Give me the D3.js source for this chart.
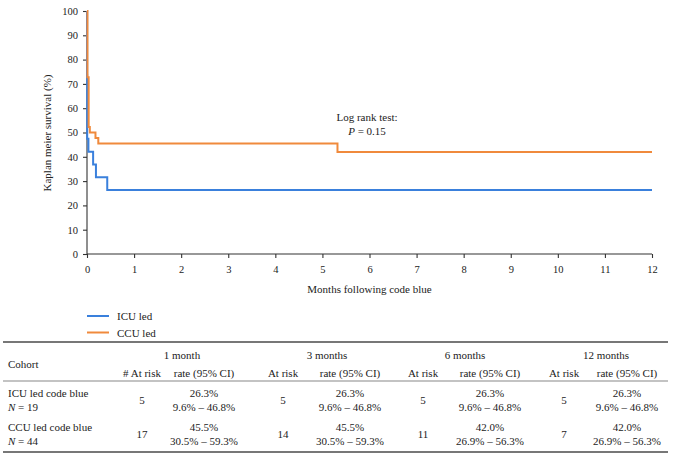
<!DOCTYPE html>
<html><head><meta charset="utf-8">
<script src="https://cdn.jsdelivr.net/npm/d3@7"></script>
<style>
body{margin:0;background:#fff;}
svg{display:block;font-family:"Liberation Serif","DejaVu Serif",serif;}
</style></head>
<body><svg id="c" width="677" height="460"></svg>
<script>
// ---- data ----
const monthTicks = [0,1,2,3,4,5,6,7,8,9,10,11,12];
const survTicks = [0,10,20,30,40,50,60,70,80,90,100];
const icuTimes = [0, 0.002, 0.004, 0.03, 0.13, 0.19, 0.43, 12];
const icuSurv  = [100, 73.7, 47.4, 42.1, 36.8, 31.6, 26.3, 26.3];
const ccuTimes = [0, 0.01, 0.035, 0.06, 0.18, 0.24, 5.32, 12];
const ccuSurv  = [100, 72.7, 52.3, 50.0, 47.7, 45.5, 42.0, 42.0];
const seriesNames = ["ICU led", "CCU led"];
const timepoints = ["1 month", "3 months", "6 months", "12 months"];
const riskHeaders = ["# At risk", "At risk", "At risk", "At risk"];
const cohortNames = ["ICU led code blue", "CCU led code blue"];
const cohortN = [19, 44];
const icuAtRisk = [5, 5, 5, 5];
const icuRate = ["26.3%", "26.3%", "26.3%", "26.3%"];
const icuCI = ["9.6% – 46.8%", "9.6% – 46.8%", "9.6% – 46.8%", "9.6% – 46.8%"];
const ccuAtRisk = [17, 14, 11, 7];
const ccuRate = ["45.5%", "45.5%", "42.0%", "42.0%"];
const ccuCI = ["30.5% – 59.3%", "30.5% – 59.3%", "26.9% – 56.3%", "26.9% – 56.3%"];

// ---- drawing ----
const svg = d3.select("#c");
const colors = ["#3a80dc", "#f08a3c"];
const x = d3.scaleLinear().domain([0,12]).range([87,652]);
const y = d3.scaleLinear().domain([0,100]).range([254,11]);
const axisColor = "#333";

const ya = svg.append("g").attr("transform","translate(87,0)")
  .call(d3.axisLeft(y).tickValues(survTicks).tickSize(4).tickPadding(5));
const xa = svg.append("g").attr("transform","translate(0,254)")
  .call(d3.axisBottom(x).tickValues(monthTicks).tickSize(4).tickPadding(8));
[ya, xa].forEach(a => {
  a.selectAll("path,line").attr("stroke", axisColor).attr("stroke-width",1.1);
  a.selectAll("text").attr("fill","#222").style("font-size","10.5px").style("font-family","Liberation Serif, serif");
});
xa.select(".domain").attr("d","M87,0H652");
ya.select(".domain").attr("d","M0,254V11");

svg.append("text").attr("transform","translate(51,133) rotate(-90)")
  .attr("text-anchor","middle").attr("font-size","11px").attr("fill","#222")
  .text("Kaplan meier survival (%)");
svg.append("text").attr("x",369.5).attr("y",293).attr("text-anchor","middle")
  .attr("font-size","11px").attr("fill","#222").text("Months following code blue");

const line = d3.line().x(d=>x(d[0])).y(d=>y(d[1])).curve(d3.curveStepAfter);
const icuData = icuTimes.map((t,i)=>[t, icuSurv[i]]);
const ccuData = ccuTimes.map((t,i)=>[t, ccuSurv[i]]);
svg.append("path").datum(icuData).attr("d",line).attr("fill","none")
  .attr("stroke",colors[0]).attr("stroke-width",2);
svg.append("path").datum(ccuData).attr("d",line).attr("fill","none")
  .attr("stroke",colors[1]).attr("stroke-width",2);

// log rank annotation
const ann = svg.append("text").attr("text-anchor","middle").attr("font-size","11px").attr("fill","#222");
ann.append("tspan").attr("x",367).attr("y",121).text("Log rank test:");
const t2 = ann.append("tspan").attr("x",367).attr("y",135);
t2.append("tspan").attr("font-style","italic").text("P");
t2.append("tspan").text(" = 0.15");

// legend
seriesNames.forEach((n,i)=>{
  const ly = 316 + i*16.5;
  svg.append("line").attr("x1",87).attr("x2",109).attr("y1",ly).attr("y2",ly)
    .attr("stroke",colors[i]).attr("stroke-width",2);
  svg.append("text").attr("x",117).attr("y",ly+4).attr("font-size","11px").attr("fill","#222").text(n);
});

// table
const tcol = "#222";
const fs = "11px";
svg.append("line").attr("x1",3).attr("x2",668).attr("y1",342).attr("y2",342).attr("stroke","#777").attr("stroke-width",2);
svg.append("line").attr("x1",3).attr("x2",668).attr("y1",381).attr("y2",381).attr("stroke","#888").attr("stroke-width",1.2);
svg.append("line").attr("x1",3).attr("x2",668).attr("y1",452).attr("y2",452).attr("stroke","#777").attr("stroke-width",2);

function txt(xp, yp, s, anchor, italicPrefix){
  const t = svg.append("text").attr("x",xp).attr("y",yp).attr("text-anchor",anchor||"middle")
    .attr("font-size",fs).attr("fill",tcol);
  if (italicPrefix){
    t.append("tspan").attr("font-style","italic").text(italicPrefix);
    t.append("tspan").text(s);
  } else t.text(s);
  return t;
}
txt(8, 368, "Cohort", "start");
const groupX = [182, 327, 465, 606];
const riskX = [142, 283, 423, 564];
const rateX = [204, 350, 490, 627];
timepoints.forEach((tp,i)=>{
  txt(groupX[i], 359, tp);
  txt(riskX[i], 377, riskHeaders[i]);
  txt(rateX[i], 377, "rate (95% CI)");
});
const rows = [
  {name: cohortNames[0], n: cohortN[0], risk: icuAtRisk, rate: icuRate, ci: icuCI, y0: 397},
  {name: cohortNames[1], n: cohortN[1], risk: ccuAtRisk, rate: ccuRate, ci: ccuCI, y0: 430.5}
];
rows.forEach(r=>{
  txt(8, r.y0, r.name, "start");
  txt(8, r.y0+14, " = " + r.n, "start", "N");
  r.risk.forEach((v,i)=>{
    txt(riskX[i], r.y0+7, String(v));
    txt(rateX[i], r.y0, r.rate[i]);
    txt(rateX[i], r.y0+14, r.ci[i]);
  });
});
</script></body></html>
